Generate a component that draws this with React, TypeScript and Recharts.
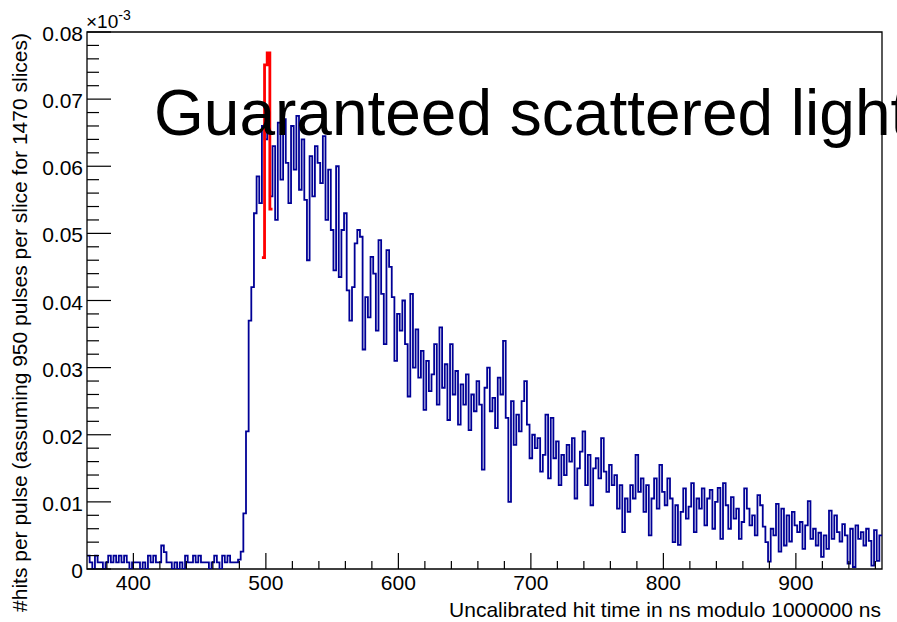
import React from 'react';
import { LineChart, Line, XAxis, YAxis, ReferenceArea } from 'recharts';

const FONT = '"Liberation Sans", Arial, Helvetica, sans-serif';
const W = 897;
const H = 622;

// histogram binning (ns)
const BIN_START = 365;
const BIN_WIDTH = 2;

// hits per pulse (x10^-3), one value per 2 ns bin from 365 ns
const hitsPerPulse = [
  // pre-pulse floor
  0.002, 0.001, 0, 0.002, 0.001, 0.001, 0, 0.001, 0.002, 0.001,
  0.002, 0.001, 0.002, 0.001, 0.002, 0.001, 0, 0.001, 0.001, 0.001,
  0, 0.001, 0, 0.002, 0.001, 0.002, 0.001, 0.001, 0.0035, 0.0025,
  0.001, 0.001, 0, 0.001, 0, 0.001, 0, 0.002, 0.001, 0.001,
  0.002, 0.001, 0.002, 0.001, 0.001, 0.001, 0, 0.001, 0.002, 0.001,
  0, 0.002, 0.001, 0.002, 0.001, 0.001, 0.001, 0.0014,
  // rising edge + peak
  0.0026, 0.0083, 0.0205, 0.037, 0.042, 0.053, 0.0585, 0.0545, 0.066, 0.064, 0.068, 0.0555,
  0.063, 0.052, 0.0665, 0.058, 0.067, 0.0605, 0.0545, 0.066, 0.0595, 0.0675,
  0.0565, 0.064, 0.055, 0.046, 0.0615, 0.0555, 0.063, 0.0605, 0.0575, 0.0645,
  0.052, 0.0595, 0.0505, 0.0445, 0.06, 0.0435, 0.0505, 0.053, 0.0415, 0.037,
  // decay
  0.042, 0.0485, 0.0505, 0.0495, 0.0327, 0.0405, 0.0375, 0.0465, 0.044, 0.0355,
  0.049, 0.041, 0.0335, 0.0475, 0.045, 0.0405, 0.031, 0.038, 0.0355, 0.04,
  0.0335, 0.0257, 0.041, 0.03, 0.0357, 0.0285, 0.0325, 0.0237, 0.031, 0.0265,
  0.029, 0.0335, 0.0245, 0.036, 0.027, 0.0305, 0.0222, 0.0335, 0.026, 0.0295,
  0.0215, 0.0275, 0.0245, 0.029, 0.0207, 0.026, 0.0235, 0.028, 0.0245, 0.0148,
  0.027, 0.03, 0.0235, 0.0255, 0.021, 0.0285, 0.026, 0.034, 0.0225, 0.01,
  0.025, 0.0185, 0.023, 0.0205, 0.025, 0.028, 0.0215, 0.0165, 0.02, 0.018,
  0.0195, 0.0145, 0.017, 0.023, 0.0135, 0.0225, 0.0165, 0.019, 0.0125, 0.017,
  0.014, 0.0185, 0.016, 0.0195, 0.0105, 0.015, 0.0175, 0.0205, 0.0125, 0.017,
  0.0095, 0.015, 0.0165, 0.0135, 0.0195, 0.0145, 0.0115, 0.0155, 0.0125, 0.014,
  0.009, 0.0125, 0.0055, 0.0105, 0.0085, 0.0125, 0.0105, 0.017, 0.0115, 0.0135,
  0.0085, 0.0125, 0.005, 0.0105, 0.0135, 0.009, 0.0155, 0.0115, 0.0095, 0.0135,
  0.0105, 0.004, 0.0095, 0.0036, 0.0085, 0.012, 0.0075, 0.0093, 0.0128, 0.0055,
  0.0105, 0.009, 0.012, 0.0065, 0.0105, 0.0118, 0.006, 0.01, 0.0121, 0.0045,
  0.0128, 0.0095, 0.006, 0.0107, 0.0075, 0.009, 0.0045, 0.007, 0.012, 0.009,
  0.0065, 0.008, 0.005, 0.011, 0.0095, 0.0063, 0.004, 0.0011, 0.006, 0.005,
  0.0097, 0.0026, 0.009, 0.0035, 0.008, 0.0041, 0.0085, 0.0065, 0.0055, 0.007,
  0.003, 0.0065, 0.0101, 0.0045, 0.006, 0.0035, 0.0054, 0.0018, 0.005, 0.003,
  0.0087, 0.0045, 0.008, 0.0055, 0.0041, 0.0067, 0.005, 0.0008, 0.006, 0.0003,
  0.0065, 0.0045, 0.0055, 0.0035, 0.006, 0.0042, 0.0005, 0.0058, 0.0012, 0.005,
];

// bins flagged as guaranteed scattered light
const SCATTER_START = 497;
const scatteredHits = [0.0464, 0.0751, 0.0769, 0.0536];

const xMajorTicks = [400, 500, 600, 700, 800, 900];
const yMajorTicks = [0, 0.01, 0.02, 0.03, 0.04, 0.05, 0.06, 0.07, 0.08];

const X_MIN = BIN_START;
const X_MAX = BIN_START + BIN_WIDTH * hitsPerPulse.length;

// 5 subdivisions between labelled ticks, like ROOT's default
const xTicks: number[] = [];
for (let t = 380; t < X_MAX; t += 20) xTicks.push(t);
const yTicks: number[] = [];
for (let k = 0; k <= 40; k++) yTicks.push(Math.round(k * 0.002 * 1000) / 1000);

// step rows: one per bin edge, last edge repeats the last bin
const rows = hitsPerPulse
  .concat([hitsPerPulse[hitsPerPulse.length - 1]])
  .map((v, i) => {
    const t = BIN_START + i * BIN_WIDTH;
    const j = (t - SCATTER_START) / BIN_WIDTH;
    const s =
      j >= 0 && j <= scatteredHits.length
        ? scatteredHits[Math.min(j, scatteredHits.length - 1)]
        : null;
    return { t, hits: v, scattered: s };
  });

const XTick = (props: any) => {
  const { x, y, payload } = props;
  const major = xMajorTicks.includes(payload.value);
  return (
    <g>
      <line x1={x} x2={x} y1={y} y2={y - (major ? 16 : 8)} stroke="#000" strokeWidth={1.2} />
      {major && (
        <text x={x} y={y + 21} textAnchor="middle" fontSize={21} fontFamily={FONT} fill="#000">
          {payload.value}
        </text>
      )}
    </g>
  );
};

const YTick = (props: any) => {
  const { x, y, payload } = props;
  const major = yMajorTicks.some((m) => Math.abs(m - payload.value) < 1e-9);
  return (
    <g>
      <line x1={x} x2={x + (major ? 24 : 12)} y1={y} y2={y} stroke="#000" strokeWidth={1.2} />
      {major && (
        <text x={x - 4} y={y + 9} textAnchor="end" fontSize={21} fontFamily={FONT} fill="#000">
          {payload.value === 0 ? '0' : payload.value.toFixed(2)}
        </text>
      )}
    </g>
  );
};

export default function App() {
  return (
    <div style={{ position: 'absolute', left: 0, top: 0, width: W, height: H, background: '#fff', overflow: 'hidden' }}>
      <LineChart
        width={W}
        height={H}
        data={rows}
        margin={{ top: 32, right: 15, bottom: 0, left: 0 }}
      >
        <XAxis
          dataKey="t"
          type="number"
          domain={[X_MIN, X_MAX]}
          ticks={xTicks}
          interval={0}
          height={53}
          axisLine={false}
          tickLine={false}
          tickSize={0}
          tickMargin={0}
          tick={<XTick />}
          allowDataOverflow
        />
        <YAxis
          type="number"
          domain={[0, 0.08]}
          ticks={yTicks}
          interval={0}
          width={87}
          axisLine={false}
          tickLine={false}
          tickSize={0}
          tickMargin={0}
          tick={<YTick />}
          allowDataOverflow
        />
        <Line
          type="stepAfter"
          dataKey="hits"
          stroke="#000096"
          strokeWidth={1.8}
          dot={false}
          activeDot={false}
          isAnimationActive={false}
        />
        <Line
          type="stepAfter"
          dataKey="scattered"
          stroke="#ff0000"
          strokeWidth={2.8}
          dot={false}
          activeDot={false}
          connectNulls={false}
          isAnimationActive={false}
        />
        <ReferenceArea
          x1={X_MIN}
          x2={X_MAX}
          y1={0}
          y2={0.08}
          fill="none"
          stroke="#000"
          strokeWidth={1.3}
          ifOverflow="visible"
        />
      </LineChart>
      <svg
        width={W}
        height={H}
        style={{ position: 'absolute', left: 0, top: 0, pointerEvents: 'none' }}
        fontFamily={FONT}
      >
        <text x={86} y={28} fontSize={19} fill="#000">
          ×10
          <tspan dy={-8} fontSize={14}>-3</tspan>
        </text>
        <text
          transform="translate(27,33) rotate(-90)"
          textAnchor="end"
          fontSize={21}
          fill="#000"
        >
          #hits per pulse (assuming 950 pulses per slice for 1470 slices)
        </text>
        <text x={881} y={617} textAnchor="end" fontSize={21} fill="#000">
          Uncalibrated hit time in ns modulo 1000000 ns
        </text>
        <text x={154} y={135} fontSize={64} fill="#000">
          Guaranteed scattered light
        </text>
      </svg>
    </div>
  );
}
